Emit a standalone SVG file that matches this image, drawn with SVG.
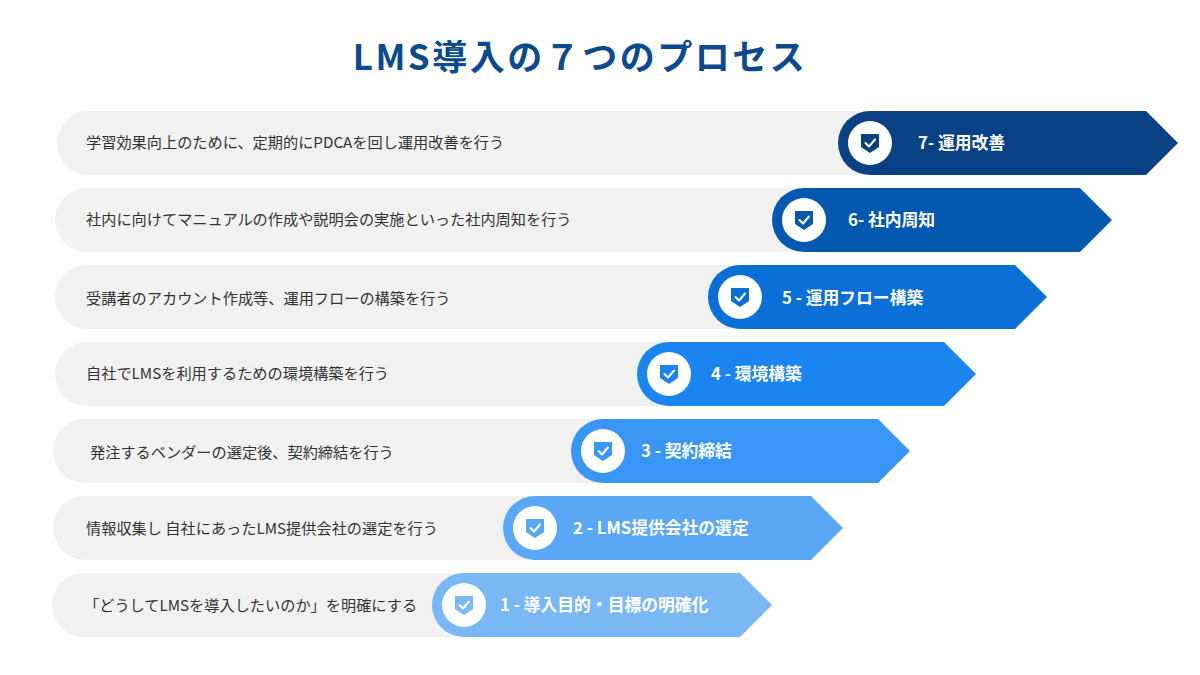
<svg xmlns="http://www.w3.org/2000/svg" width="1200" height="675" viewBox="0 0 1200 675">
<style>
.t{font-family:"Noto Sans CJK JP","Noto Sans",sans-serif}
.title{font-size:35px;font-weight:700;fill:#0b4a8c;letter-spacing:2.5px}
.d{font-size:15.2px;fill:#333}
.l{font-size:16.8px;font-weight:700;fill:#fff}
.g{fill:#f1f1f1}
</style>
<defs>
<g id="ic"><circle r="22" fill="#fff"/><path d="M-9,-9 H9 V4 L0,10 L-9,4 Z" fill="currentColor"/><path d="M-4.5,0 L-1,3.5 L5,-3.5" fill="none" stroke="#fff" stroke-width="2" stroke-linecap="round" stroke-linejoin="round"/></g>
</defs>
<rect width="1200" height="675" fill="#fff"/>
<text class="t title" x="580" y="70" text-anchor="middle">LMS導入の７つのプロセス</text>
<g id="step7"><rect class="g" x="57" y="111" width="830" height="64" rx="32"/><path d="M870,111 H1146 L1178,143 L1146,175 H870 A32,32 0 0 1 870,111 Z" fill="#0a4185"/><use href="#ic" x="870" y="143" color="#0a4185"/><text class="t d" x="86" y="148">学習効果向上のために、定期的にPDCAを回し運用改善を行う</text><text class="t l" x="918" y="149">7- 運用改善</text></g>
<g id="step6"><rect class="g" x="55" y="188" width="770" height="64" rx="32"/><path d="M804,188 H1080 L1112,220 L1080,252 H804 A32,32 0 0 1 804,188 Z" fill="#0558b0"/><use href="#ic" x="804" y="220" color="#0558b0"/><text class="t d" x="86" y="225">社内に向けてマニュアルの作成や説明会の実施といった社内周知を行う</text><text class="t l" x="848" y="226">6- 社内周知</text></g>
<g id="step5"><rect class="g" x="55" y="265" width="700" height="64" rx="32"/><path d="M740,265 H1015 L1047,297 L1015,329 H740 A32,32 0 0 1 740,265 Z" fill="#0a6fd6"/><use href="#ic" x="740" y="297" color="#0a6fd6"/><text class="t d" x="86" y="304">受講者のアカウント作成等、運用フローの構築を行う</text><text class="t l" x="782" y="304">5 - 運用フロー構築</text></g>
<g id="step4"><rect class="g" x="55" y="342" width="630" height="64" rx="32"/><path d="M669,342 H944 L976,374 L944,406 H669 A32,32 0 0 1 669,342 Z" fill="#1a85f0"/><use href="#ic" x="669" y="374" color="#1a85f0"/><text class="t d" x="86" y="379">自社でLMSを利用するための環境構築を行う</text><text class="t l" x="711" y="380">4 - 環境構築</text></g>
<g id="step3"><rect class="g" x="53" y="419" width="570" height="64" rx="32"/><path d="M603,419 H878 L910,451 L878,483 H603 A32,32 0 0 1 603,419 Z" fill="#3a96f5"/><use href="#ic" x="603" y="451" color="#3a96f5"/><text class="t d" x="90" y="458">発注するベンダーの選定後、契約締結を行う</text><text class="t l" x="641" y="457">3 - 契約締結</text></g>
<g id="step2"><rect class="g" x="53" y="496" width="500" height="64" rx="32"/><path d="M535,496 H811 L843,528 L811,560 H535 A32,32 0 0 1 535,496 Z" fill="#5aa8f5"/><use href="#ic" x="535" y="528" color="#5aa8f5"/><text class="t d" x="86" y="534">情報収集し 自社にあったLMS提供会社の選定を行う</text><text class="t l" x="573" y="534">2 - LMS提供会社の選定</text></g>
<g id="step1"><rect class="g" x="52" y="573" width="430" height="64" rx="32"/><path d="M464,573 H740 L772,605 L740,637 H464 A32,32 0 0 1 464,573 Z" fill="#7ab8f5"/><use href="#ic" x="464" y="605" color="#7ab8f5"/><text class="t d" x="84" y="611">「どうしてLMSを導入したいのか」を明確にする</text><text class="t l" x="500" y="611">1 - 導入目的・目標の明確化</text></g>
<g id="connectors"/>
</svg>
